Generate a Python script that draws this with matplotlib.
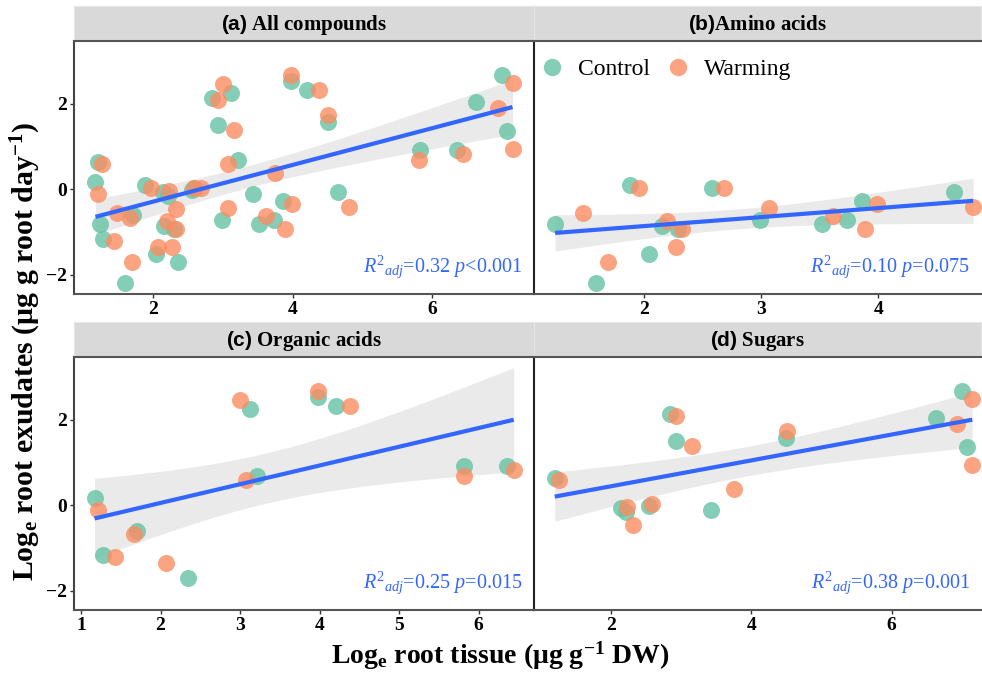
import math
import numpy as np
import matplotlib
matplotlib.use("Agg")
import matplotlib.pyplot as plt
from matplotlib.lines import Line2D

plt.rcParams['font.family'] = ['Liberation Serif', 'DejaVu Serif']
plt.rcParams['mathtext.fontset'] = 'custom'
plt.rcParams['mathtext.rm'] = 'Liberation Serif'
plt.rcParams['mathtext.it'] = 'Liberation Serif:italic'
plt.rcParams['mathtext.bf'] = 'Liberation Serif:bold'
plt.rcParams['mathtext.sf'] = 'Liberation Sans:bold'

# ---------------- data ----------------
amino_ctrl_x = [1.24, 1.88, 2.15, 2.29, 2.04, 1.59, 2.58, 2.99, 3.52, 3.73, 3.86, 4.65]
amino_ctrl_y = [-0.82, 0.11, -0.86, -0.92, -1.51, -2.20, 0.02, -0.73, -0.82, -0.71, -0.28, -0.06]
amino_warm_x = [1.48, 1.96, 1.69, 2.20, 2.32, 2.27, 2.68, 3.07, 3.61, 3.89, 3.99, 4.81]
amino_warm_y = [-0.55, 0.03, -1.71, -0.74, -0.94, -1.35, 0.03, -0.44, -0.63, -0.93, -0.35, -0.41]

organic_ctrl_x = [1.17, 1.28, 1.71, 2.35, 3.12, 3.21, 3.98, 4.21, 5.82, 6.36]
organic_ctrl_y = [0.17, -1.16, -0.59, -1.71, 2.26, 0.69, 2.53, 2.33, 0.93, 0.93]
organic_warm_x = [1.21, 1.43, 1.67, 2.07, 3.00, 3.07, 3.98, 4.38, 5.81, 6.44]
organic_warm_y = [-0.10, -1.20, -0.67, -1.34, 2.46, 0.59, 2.67, 2.32, 0.68, 0.83]

sugar_ctrl_x = [1.20, 2.14, 2.21, 2.55, 2.84, 2.93, 3.43, 4.50, 6.63, 7.00, 7.07]
sugar_ctrl_y = [0.64, -0.06, -0.16, -0.02, 2.13, 1.51, -0.10, 1.58, 2.04, 2.68, 1.37]
sugar_warm_x = [1.26, 2.23, 2.32, 2.59, 2.93, 3.15, 3.75, 4.51, 6.94, 7.15, 7.15]
sugar_warm_y = [0.59, -0.05, -0.47, 0.04, 2.09, 1.39, 0.38, 1.73, 1.90, 2.49, 0.94]

panel_titles = ["(a)", "(b)", "(c)", "(d)"]
panel_names = [" All compounds", "Amino acids", " Organic acids", " Sugars"]
stats_text = [r"$R^{2}{}_{adj}$=0.32 $p$<0.001",
              r"$R^{2}{}_{adj}$=0.10 $p$=0.075",
              r"$R^{2}{}_{adj}$=0.25 $p$=0.015",
              r"$R^{2}{}_{adj}$=0.38 $p$=0.001"]
xticks_list = [[2, 4, 6], [2, 3, 4], [1, 2, 3, 4, 5, 6], [2, 4, 6]]
xlims = [(0.863, 7.458), (1.060, 4.878), (0.912, 6.695), (0.905, 7.275)]
ylim = (-2.45, 3.47)
yticks = [-2, 0, 2]
groups = ["Control", "Warming"]
colors = ["#66C2A5", "#FC8D62"]

all_ctrl_x = amino_ctrl_x + organic_ctrl_x + sugar_ctrl_x
all_ctrl_y = amino_ctrl_y + organic_ctrl_y + sugar_ctrl_y
all_warm_x = amino_warm_x + organic_warm_x + sugar_warm_x
all_warm_y = amino_warm_y + organic_warm_y + sugar_warm_y

panels = [
    (all_ctrl_x, all_ctrl_y, all_warm_x, all_warm_y),
    (amino_ctrl_x, amino_ctrl_y, amino_warm_x, amino_warm_y),
    (organic_ctrl_x, organic_ctrl_y, organic_warm_x, organic_warm_y),
    (sugar_ctrl_x, sugar_ctrl_y, sugar_warm_x, sugar_warm_y),
]


def t_crit(df, q=0.975):
    c = math.gamma((df + 1) / 2) / (math.sqrt(df * math.pi) * math.gamma(df / 2))
    grid = np.linspace(0, 10, 20001)
    pdf = c * (1 + grid ** 2 / df) ** (-(df + 1) / 2)
    cdf = 0.5 + np.concatenate([[0], np.cumsum((pdf[1:] + pdf[:-1]) / 2 * np.diff(grid))])
    return float(np.interp(q, cdf, grid))


W, H = 982, 676
fig = plt.figure(figsize=(W / 100, H / 100), dpi=100)

# pixel boxes: (left, right, top, bottom)
boxes = [(74, 534, 41, 294), (534, 981, 41, 294), (74, 534, 357, 610), (534, 981, 357, 610)]
strip_h = 35

axes = []
for i, (l, r, t, b) in enumerate(boxes):
    ax = fig.add_axes([l / W, (H - b) / H, (r - l) / W, (b - t) / H])
    axes.append(ax)
    sax = fig.add_axes([l / W, (H - t) / H, (r - l) / W, strip_h / H])
    sax.set_xticks([]); sax.set_yticks([])
    sax.set_facecolor("#D9D9D9")
    for s in sax.spines.values():
        s.set_color("#E6E6E6"); s.set_linewidth(0.8)
    sax.spines['bottom'].set_color("#555555")
    sax.spines['bottom'].set_linewidth(1.5)
    sax.text(0.5, 0.47, r"$\mathsf{" + panel_titles[i] + "}$" + panel_names[i],
             ha="center", va="center", fontsize=15, fontweight="bold",
             transform=sax.transAxes)

    cx, cy, wx, wy = panels[i]
    x = np.array(cx + wx, dtype=float)
    y = np.array(cy + wy, dtype=float)
    n = len(x)
    slope, inter = np.polyfit(x, y, 1)
    xs = np.linspace(x.min(), x.max(), 100)
    yhat = inter + slope * xs
    resid = y - (inter + slope * x)
    s = math.sqrt(np.sum(resid ** 2) / (n - 2))
    se = s * np.sqrt(1 / n + (xs - x.mean()) ** 2 / np.sum((x - x.mean()) ** 2))
    tc = t_crit(n - 2)
    ax.fill_between(xs, yhat - tc * se, yhat + tc * se, color="#999999", alpha=0.2,
                    linewidth=0, zorder=1)
    ax.scatter(cx, cy, s=150, color=colors[0], alpha=0.8, linewidths=0, zorder=2)
    ax.scatter(wx, wy, s=150, color=colors[1], alpha=0.8, linewidths=0, zorder=2)
    ax.plot(xs, yhat, color="#3366FF", linewidth=3.0, zorder=3, solid_capstyle="butt")

    ax.set_xlim(*xlims[i])
    ax.set_ylim(*ylim)
    ax.set_xticks(xticks_list[i])
    ax.set_xticklabels([str(v) for v in xticks_list[i]], fontweight="bold", fontsize=14)
    if i in (0, 2):
        ax.set_yticks(yticks)
        ax.set_yticklabels(["\u22122", "0", "2"], fontweight="bold", fontsize=14)
    else:
        ax.set_yticks([])
    ax.tick_params(length=3, width=1.0, color="#333333", pad=2)
    ax.spines['top'].set_visible(False)
    ax.spines['right'].set_visible(False)
    ax.spines['left'].set_color("#222222" if i in (1, 3) else "#444444")
    ax.spines['bottom'].set_color("#555555")
    ax.spines['left'].set_linewidth(1.5)
    ax.spines['bottom'].set_linewidth(1.5)
    ax.text(0.975, 0.055, stats_text[i], color="#3366FF", fontsize=14.5,
            ha="right", va="bottom", transform=ax.transAxes)

handles = [Line2D([], [], marker="o", linestyle="", markersize=12.5, color=c, alpha=0.8,
                  markeredgewidth=0) for c in colors]
axes[1].legend(handles, groups, loc="upper left", ncol=2, frameon=False,
               bbox_to_anchor=(-0.04, 1.015), prop={"family": "Liberation Serif", "size": 17},
               handletextpad=0.5, columnspacing=0.6, handlelength=1.2)

fig.text(500 / W, 20 / H,
         r"Log$_{\mathbf{e}}$ root tissue ($\mathbf{\mu}$g g$^{\mathbf{-1}}$ DW)",
         ha="center", va="center", fontsize=20, fontweight="bold")
fig.text(26 / W, (H - 351) / H,
         r"Log$_{\mathbf{e}}$ root exudates ($\mathbf{\mu}$g g root day$^{\mathbf{-1}}$)",
         ha="center", va="center", rotation=90, fontsize=21.5, fontweight="bold")

fig.savefig("out.png", dpi=100)
